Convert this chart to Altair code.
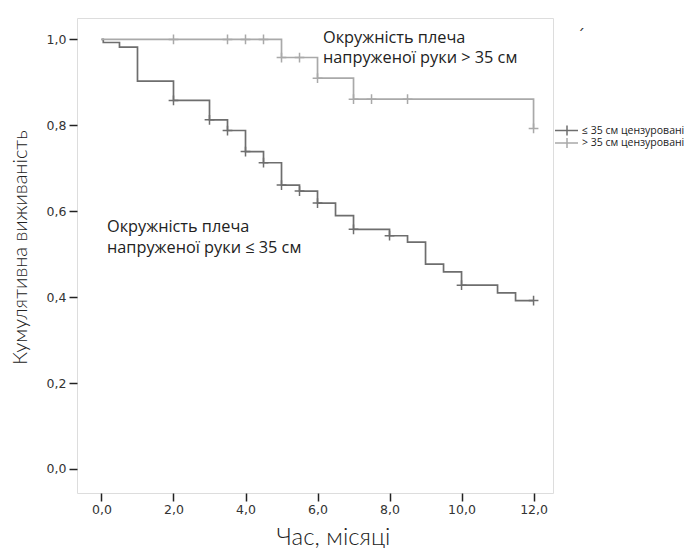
import altair as alt
import pandas as pd

# ---- data ----
groups = ["≤ 35 см", "> 35 см"]
colors = ["#6e6e6e", "#a9a9a9"]

t_low = [0, 0.05, 0.5, 1.0, 2.0, 3.0, 3.5, 4.0, 4.5, 5.0, 5.5, 6.0, 6.5, 7.0, 8.0, 8.5, 9.0, 9.5, 10.0, 11.0, 11.5, 12.0]
s_low = [1.0, 0.993, 0.982, 0.903, 0.858, 0.813, 0.788, 0.739, 0.713, 0.661, 0.647, 0.619, 0.590, 0.558, 0.543, 0.528, 0.477, 0.459, 0.428, 0.410, 0.392, 0.392]
cens_low = [2, 3, 3.5, 4, 4.5, 5, 5.5, 6, 7, 8, 10, 12]

t_high = [0, 5.0, 6.0, 7.0, 12.0]
s_high = [1.0, 0.958, 0.910, 0.861, 0.793]
cens_high = [2, 3.5, 4, 4.5, 5, 5.5, 6, 7, 7.5, 8.5, 12]

x_ticks = [0, 2, 4, 6, 8, 10, 12]
y_ticks = [0, 0.2, 0.4, 0.6, 0.8, 1.0]

legend_labels = ["≤ 35 см цензуровані", "> 35 см цензуровані"]
note_high = ["Окружність плеча", "напруженої руки > 35 см"]
note_low = ["Окружність плеча", "напруженої руки ≤ 35 см"]


def surv_at(ts, ss, t):
    v = ss[0]
    for ti, si in zip(ts, ss):
        if ti <= t:
            v = si
    return v


lines = pd.concat([
    pd.DataFrame({"t": t_low, "s": s_low, "g": groups[0]}),
    pd.DataFrame({"t": t_high, "s": s_high, "g": groups[1]}),
])
cens = pd.concat([
    pd.DataFrame({"t": cens_low, "s": [surv_at(t_low, s_low, c) for c in cens_low], "g": groups[0]}),
    pd.DataFrame({"t": cens_high, "s": [surv_at(t_high, s_high, c) for c in cens_high], "g": groups[1]}),
])

W, H = 476, 475
LEFT, TOP = 77, 18

xscale = alt.Scale(domain=[-0.68, 12.54], nice=False, zero=False)
yscale = alt.Scale(domain=[-0.056, 1.05], nice=False, zero=False)
cscale = alt.Scale(domain=groups, range=colors)
label_expr = "replace(format(datum.value, '.1f'), '.', ',')"

TITLE_FONT = "Lato"

xaxis = alt.Axis(values=x_ticks, labelExpr=label_expr, title="Час, місяці", grid=False, domain=False,
                 tickColor="#222", tickWidth=1.5, tickSize=8,
                 labelFont="DejaVu Sans", labelFontSize=12.5, labelColor="#333", labelPadding=2,
                 titleFont=TITLE_FONT, titleFontSize=24, titleFontWeight=300, titleColor="#222",
                 titleX=256, titleY=51, titleBaseline="alphabetic", titleAlign="center")
yaxis = alt.Axis(values=y_ticks, labelExpr=label_expr, title="Кумулятивна виживаність", grid=False, domain=False,
                 tickColor="#222", tickWidth=1.5, tickSize=8,
                 labelFont="DejaVu Sans", labelFontSize=12.5, labelColor="#333", labelPadding=3,
                 titleFont=TITLE_FONT, titleFontSize=20, titleFontWeight=300, titleColor="#222",
                 titleAngle=270, titleX=-51, titleY=229, titleBaseline="alphabetic", titleAlign="center")

curve = alt.Chart(lines).mark_line(interpolate="step-after", strokeWidth=1.7).encode(
    x=alt.X("t:Q", scale=xscale, axis=xaxis),
    y=alt.Y("s:Q", scale=yscale, axis=yaxis),
    color=alt.Color("g:N", scale=cscale, legend=None),
    detail="g:N",
)

cross = "M-1,0L1,0M0,-1L0,1"
marks = alt.Chart(cens).mark_point(shape=cross, filled=False, size=95, strokeWidth=1.5, opacity=1).encode(
    x="t:Q", y="s:Q", color=alt.Color("g:N", scale=cscale, legend=None)
)

one = alt.Data(values=[{"a": 1}])

layers = [curve, marks]

# legend (drawn beside the plot)
for i, (lab, col) in enumerate(zip(legend_labels, colors)):
    yy = 130.5 - TOP + i * 12.5
    layers.append(alt.Chart(one).mark_rule(color=col, strokeWidth=1.5).encode(
        x=alt.value(555 - LEFT), x2=alt.value(578 - LEFT), y=alt.value(yy)))
    layers.append(alt.Chart(one).mark_rule(color=col, strokeWidth=1.5).encode(
        x=alt.value(567 - LEFT), y=alt.value(yy - 5), y2=alt.value(yy + 5)))
    layers.append(alt.Chart(one).mark_text(text=lab, align="left", baseline="middle", font="Open Sans",
                                           fontSize=10.5, color="#222").encode(
        x=alt.value(582 - LEFT), y=alt.value(yy)))

# annotations
layers.append(alt.Chart(one).mark_text(text=note_high, align="left", baseline="alphabetic", font="Open Sans",
                                       fontSize=16.3, lineHeight=20, color="#222").encode(
    x=alt.value(323 - LEFT), y=alt.value(43 - TOP)))
layers.append(alt.Chart(one).mark_text(text=note_low, align="left", baseline="alphabetic", font="Open Sans",
                                       fontSize=16.3, lineHeight=21, color="#222").encode(
    x=alt.value(107 - LEFT), y=alt.value(232 - TOP)))
layers.append(alt.Chart(one).mark_text(text="´", align="center", baseline="middle", font="DejaVu Sans",
                                       fontSize=16, color="#333").encode(
    x=alt.value(581 - LEFT), y=alt.value(36 - TOP)))

chart = alt.layer(*layers).properties(
    width=W, height=H,
    autosize=alt.AutoSizeParams(type="none"),
    padding={"left": LEFT, "top": TOP, "right": 694 - LEFT - W, "bottom": 548 - TOP - H},
).configure_view(fill="#f0f0f0", stroke="#2a2a2a", strokeWidth=1.6).configure_axis(
    titleFontWeight=300
).configure(background="white")

chart.save("out.html", embed_options={"renderer": "svg", "actions": False})
